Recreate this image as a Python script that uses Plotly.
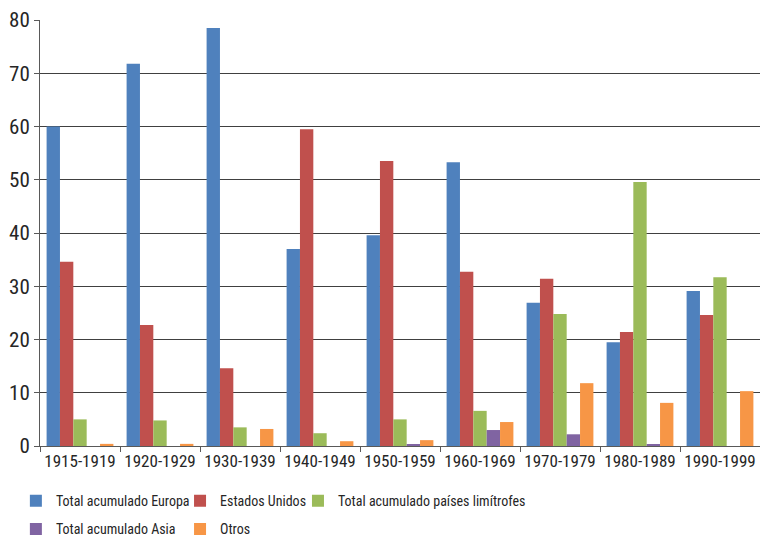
import plotly.graph_objects as go

categories = ["1915-1919", "1920-1929", "1930-1939", "1940-1949", "1950-1959",
              "1960-1969", "1970-1979", "1980-1989", "1990-1999"]
europa = [60.0, 71.8, 78.5, 37.0, 39.6, 53.3, 26.9, 19.5, 29.1]
eeuu = [34.6, 22.7, 14.6, 59.5, 53.5, 32.7, 31.4, 21.4, 24.6]
limitrofes = [5.0, 4.8, 3.5, 2.4, 5.0, 6.6, 24.8, 49.6, 31.7]
asia = [0.0, 0.0, 0.0, 0.0, 0.3, 3.0, 2.2, 0.3, 0.0]
otros = [0.4, 0.4, 3.2, 0.9, 1.1, 4.5, 11.8, 8.1, 10.3]
y_ticks = [0, 10, 20, 30, 40, 50, 60, 70, 80]

FONT = "Roboto Condensed, Liberation Sans Narrow, DejaVu Sans Condensed, sans-serif"
TXT = "#262626"

series = [
    ("Total acumulado Europa", europa, "#4F81BD", "legend"),
    ("Estados Unidos", eeuu, "#C0504D", "legend2"),
    ("Total acumulado países limítrofes", limitrofes, "#9BBB59", "legend3"),
    ("Total acumulado Asia", asia, "#8064A2", "legend"),
    ("Otros", otros, "#F79646", "legend2"),
]

fig = go.Figure()
for name, vals, color, leg in series:
    fig.add_trace(go.Bar(x=categories, y=vals, name=name, marker_color=color,
                         marker_line_width=0, legend=leg, legendgroup=name))

legend_common = dict(orientation="v", yanchor="top", y=-0.092, xanchor="left",
                     font=dict(family=FONT, size=14, color=TXT),
                     bgcolor="rgba(0,0,0,0)", tracegroupgap=7, itemwidth=30,
                     traceorder="grouped")

fig.update_layout(
    width=760, height=536,
    margin=dict(l=40, r=0, t=20, b=90, autoexpand=False),
    paper_bgcolor="white", plot_bgcolor="white",
    barmode="group", bargap=0.165, bargroupgap=0,
    font=dict(family=FONT, size=16, color=TXT),
    legend=dict(x=-0.0335, **legend_common),
    legend2=dict(x=0.1945, **legend_common),
    legend3=dict(x=0.3583, **legend_common),
    xaxis=dict(type="category", tickson="boundaries", ticks="outside", ticklen=5,
               tickangle=0, automargin=False,
               tickcolor="#595959", showline=True, linecolor="#595959", linewidth=1,
               tickfont=dict(family=FONT, size=17, color=TXT), showgrid=False),
    yaxis=dict(range=[0, 80], tickvals=y_ticks, ticks="outside", ticklen=5,
               automargin=False,
               tickcolor="#595959", showline=True, linecolor="#595959", linewidth=1,
               showgrid=True, gridcolor="#404040", gridwidth=1, zeroline=False,
               tickfont=dict(family=FONT, size=21, color=TXT)),
)

fig.write_html("out.html")
